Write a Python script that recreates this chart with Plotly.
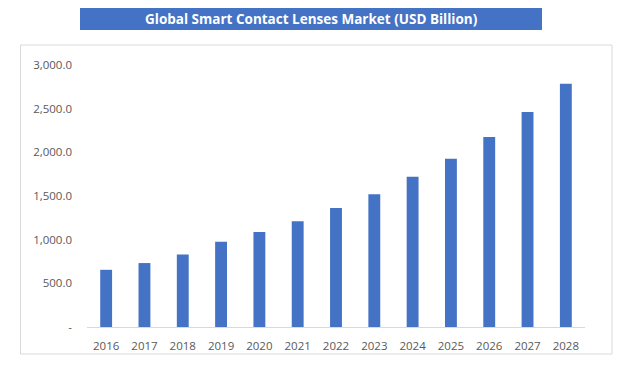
import plotly.graph_objects as go

years = ["2016", "2017", "2018", "2019", "2020", "2021", "2022",
         "2023", "2024", "2025", "2026", "2027", "2028"]
market_usd_bn = [655, 732, 831, 977, 1088, 1210, 1364, 1521, 1721, 1927, 2176, 2463, 2785]
y_tick_vals = [0, 500, 1000, 1500, 2000, 2500, 3000]
y_tick_text = ["-", "500.0", "1,000.0", "1,500.0", "2,000.0", "2,500.0", "3,000.0"]
title_text = "Global Smart Contact Lenses Market (USD Billion)"

O = 8  # default page body margin
W, H = 634 - O, 375 - O
L, R, T, B = 87, 585, 65, 327  # plot area in screen pixels


def px(x):
    return (x - L) / (R - L)


def py(y):
    return (B - y) / (B - T)


fig = go.Figure(go.Bar(
    x=years, y=market_usd_bn,
    marker=dict(color="#4472C4", line=dict(width=0)),
))

fig.update_layout(
    width=W, height=H,
    margin=dict(l=L - O, r=634 - R, t=T - O, b=375 - B, pad=0),
    paper_bgcolor="white", plot_bgcolor="white",
    bargap=0.69,
    showlegend=False,
    font=dict(family="Open Sans, Carlito, sans-serif", size=11, color="#595959"),
    xaxis=dict(
        type="category", range=[-0.5, 12.5],
        showline=True, linecolor="#d9d9d9", linewidth=1,
        showgrid=False, ticks="", ticklabelstandoff=8,
        tickfont=dict(size=11.5, color="#595959"),
    ),
    yaxis=dict(
        range=[0, 3000], tickvals=y_tick_vals, ticktext=y_tick_text,
        showgrid=False, showline=False, zeroline=False, ticks="",
        ticklabelstandoff=14,
        tickfont=dict(size=11.5, color="#595959"),
    ),
    shapes=[
        dict(type="rect", xref="paper", yref="paper",
             x0=px(20.5), x1=px(612), y0=py(354), y1=py(45),
             line=dict(color="#d9d9d9", width=1), fillcolor="rgba(0,0,0,0)",
             layer="below"),
        dict(type="rect", xref="paper", yref="paper",
             x0=px(80), x1=px(542), y0=py(30), y1=py(8),
             line=dict(width=0), fillcolor="#4472C4"),
    ],
    annotations=[
        dict(text="<b>" + title_text + "</b>", xref="paper", yref="paper",
             x=px(311), y=py(19.5), showarrow=False,
             xanchor="center", yanchor="middle",
             font=dict(family="Open Sans, sans-serif", size=13.5, color="white")),
    ],
)

fig.write_html("out.html")
